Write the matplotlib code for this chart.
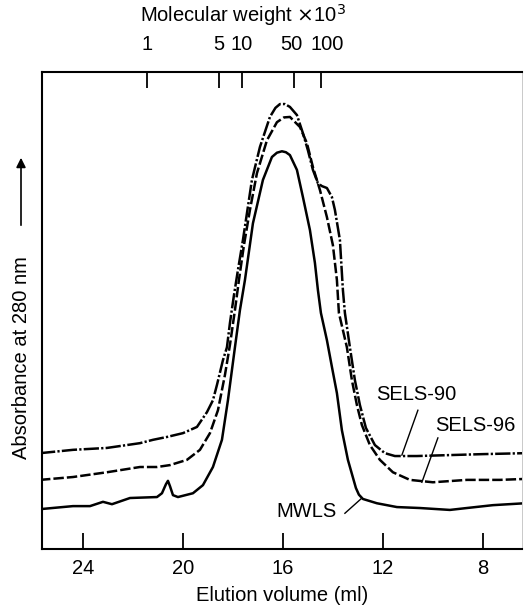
import matplotlib
matplotlib.use('Agg')
import matplotlib.pyplot as plt
import matplotlib.transforms as mtransforms

plt.rcParams['font.family'] = ['Liberation Sans', 'DejaVu Sans']
plt.rcParams['lines.scale_dashes'] = False

# elution volume (ml) and absorbance (arbitrary units)
mwls_vol = [25.64, 24.40, 23.72, 23.20, 22.84, 22.12, 21.04, 20.84, 20.68, 20.60, 20.52,
            20.40, 20.20, 19.60, 19.20, 18.80, 18.44, 18.20, 17.92, 17.72, 17.52, 17.20,
            16.80, 16.44, 16.24, 16.04, 15.88, 15.72, 15.44, 15.20, 14.92, 14.72, 14.60,
            14.48, 14.24, 14.04, 13.84, 13.64, 13.40, 13.08, 12.96, 12.80, 12.24, 11.44,
            10.52, 9.32, 8.64, 7.60, 6.32]
mwls_abs = [0.084, 0.090, 0.090, 0.099, 0.094, 0.107, 0.109, 0.117, 0.136, 0.143, 0.132,
            0.113, 0.109, 0.117, 0.134, 0.172, 0.229, 0.312, 0.423, 0.501, 0.564, 0.683,
            0.774, 0.822, 0.831, 0.834, 0.832, 0.826, 0.795, 0.738, 0.669, 0.600, 0.543,
            0.495, 0.438, 0.382, 0.327, 0.249, 0.187, 0.128, 0.114, 0.105, 0.096, 0.088,
            0.086, 0.082, 0.086, 0.092, 0.096]

sels90_vol = [25.72, 24.40, 23.04, 21.72, 21.20, 20.64, 20.00, 19.44, 19.04, 18.80, 18.64,
              18.40, 18.24, 18.12, 17.96, 17.80, 17.60, 17.24, 16.92, 16.52, 16.30, 16.12,
              15.92, 15.72, 15.44, 15.20, 15.00, 14.80, 14.60, 14.44, 14.24, 14.04, 13.92,
              13.72, 13.60, 13.52, 13.32, 13.12, 12.92, 12.68, 12.32, 11.92, 11.52, 10.64,
              9.32, 8.00, 6.32]
sels90_abs = [0.201, 0.208, 0.212, 0.222, 0.229, 0.235, 0.243, 0.256, 0.287, 0.312, 0.344,
              0.396, 0.423, 0.474, 0.532, 0.585, 0.648, 0.774, 0.843, 0.906, 0.925, 0.933,
              0.933, 0.927, 0.910, 0.872, 0.836, 0.795, 0.767, 0.761, 0.757, 0.738, 0.711,
              0.648, 0.543, 0.495, 0.423, 0.354, 0.302, 0.254, 0.218, 0.201, 0.195, 0.195,
              0.197, 0.199, 0.201]

sels96_vol = [25.72, 24.40, 23.04, 21.72, 21.04, 20.52, 19.84, 19.32, 18.92, 18.60, 18.32,
              18.12, 17.92, 17.76, 17.56, 17.32, 17.04, 16.64, 16.24, 15.96, 15.72, 15.32,
              15.04, 14.80, 14.52, 14.24, 14.00, 13.84, 13.76, 13.44, 13.24, 13.04, 12.84,
              12.52, 12.12, 11.60, 10.92, 10.00, 8.64, 7.32, 6.32]
sels96_abs = [0.145, 0.151, 0.161, 0.172, 0.172, 0.176, 0.187, 0.208, 0.243, 0.291, 0.365,
              0.428, 0.501, 0.564, 0.637, 0.711, 0.788, 0.857, 0.895, 0.905, 0.906, 0.885,
              0.851, 0.801, 0.753, 0.696, 0.637, 0.564, 0.495, 0.423, 0.354, 0.302, 0.260,
              0.218, 0.187, 0.161, 0.145, 0.140, 0.145, 0.145, 0.147]

vol_ticks = [24, 20, 16, 12, 8]
# molecular weight calibration marks on the top axis
mw_labels = ['1', '5', '10', '50', '100']
mw_vol = [21.44, 18.56, 17.64, 15.56, 14.48]

fs = 14.5
fig = plt.figure(figsize=(5.25, 6.06), dpi=100)
ax = fig.add_axes([0.080, 0.094, 0.914, 0.787])

kw = dict(color='black', lw=1.8, solid_joinstyle='round', dash_joinstyle='round')
ax.plot(sels90_vol, sels90_abs, linestyle=(0, (11, 1.6, 1.6, 1.6)), **kw)
ax.plot(sels96_vol, sels96_abs, linestyle=(0, (7.5, 2.2)), **kw)
ax.plot(mwls_vol, mwls_abs, **kw)

ax.set_xlim(25.64, 6.44)
ax.set_ylim(0, 1)
ax.set_xticks(vol_ticks)
ax.set_xticklabels([str(v) for v in vol_ticks], fontsize=fs)
ax.tick_params(axis='x', direction='in', length=11.5, width=1.3, pad=7)
ax.set_yticks([])
ax.set_xlabel('Elution volume (ml)', fontsize=fs, labelpad=6)

for side in ['left', 'bottom', 'top']:
    ax.spines[side].set_linewidth(1.5)
ax.spines['right'].set_linewidth(0.6)
ax.spines['right'].set_color('#c0c0c0')

ax2 = ax.twiny()
ax2.set_xlim(ax.get_xlim())
ax2.set_xticks(mw_vol)
ax2.set_xticklabels(mw_labels, fontsize=fs)
ax2.tick_params(axis='x', direction='in', length=11.5, width=1.3, pad=13)
for sp in ax2.spines.values():
    sp.set_visible(False)
# nudge the crowded "50" and "100" labels apart as in the original
shifts = {'50': -3, '100': 6}
for lab in ax2.get_xticklabels():
    dx = shifts.get(lab.get_text(), 0)
    if dx:
        lab.set_transform(lab.get_transform() +
                          mtransforms.ScaledTranslation(dx / 100, 0, fig.dpi_scale_trans))

fig.text(243 / 525, 1 - 15 / 606, r'Molecular weight $\times$10$^3$', fontsize=fs,
         ha='center', va='center')

# y label with upward arrow
fig.text(22 / 525, 1 - 358 / 606, 'Absorbance at 280 nm', fontsize=fs,
         rotation=90, ha='center', va='center')
ax.annotate('', xy=(21 / 525, 1 - 155 / 606), xytext=(21 / 525, 1 - 228 / 606),
            xycoords='figure fraction', textcoords='figure fraction',
            arrowprops=dict(arrowstyle='-|>', color='black', lw=1.2,
                            mutation_scale=14))

# curve labels with leader lines
ax.text(13.84, 0.078, 'MWLS', fontsize=fs, ha='right', va='center')
ax.plot([13.52, 12.88], [0.075, 0.105], color='black', lw=1.0)
ax.text(10.68, 0.323, 'SELS-90', fontsize=fs, ha='center', va='center')
ax.plot([10.60, 11.24], [0.291, 0.197], color='black', lw=1.0)
ax.text(8.32, 0.260, 'SELS-96', fontsize=fs, ha='center', va='center')
ax.plot([9.80, 10.44], [0.233, 0.140], color='black', lw=1.0)

fig.savefig('out.png', dpi=100)
